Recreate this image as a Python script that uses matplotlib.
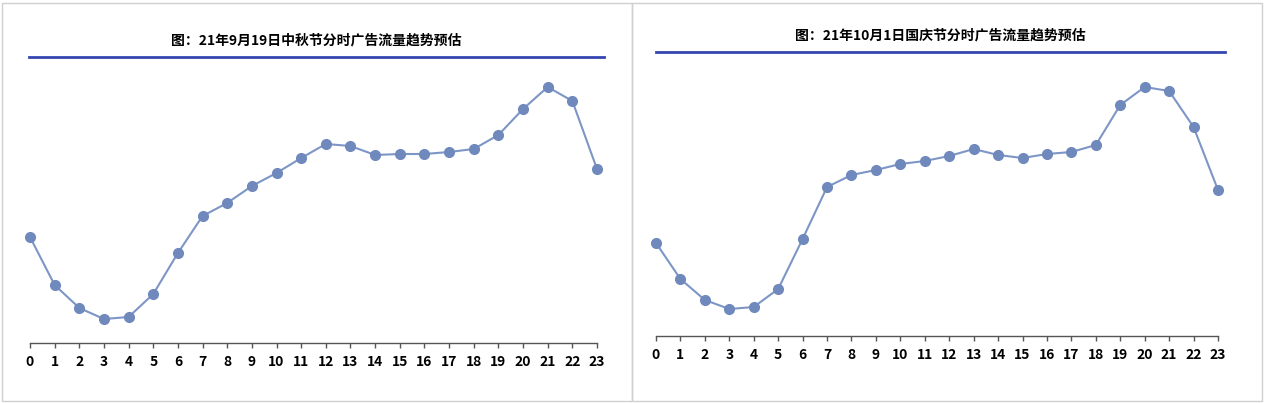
import matplotlib
matplotlib.use('Agg')
import matplotlib.pyplot as plt
from matplotlib.patches import Rectangle
from matplotlib.lines import Line2D

plt.rcParams['font.family'] = ['Noto Sans CJK SC', 'DejaVu Sans']

# Stunden 0-23
stunden = list(range(24))

# Mittherbstfest (21.09.19), relative Werte
werte_mittherbst = [106, 58, 35, 24, 26, 49, 90, 127, 140, 157, 170, 185,
                    199, 197, 188, 189, 189, 191, 194, 208, 234, 256, 242, 174]
# Nationalfeiertag (21.10.01)
werte_national = [93, 57, 36, 27, 29, 47, 97, 149, 161, 166, 172, 175,
                  180, 187, 181, 178, 182, 184, 191, 231, 249, 245, 209, 146]

titel_links = '图：21年9月19日中秋节分时广告流量趋势预估'
titel_rechts = '图：21年10月1日国庆节分时广告流量趋势预估'

W, H = 1265, 403
fig = plt.figure(figsize=(W / 100, H / 100), dpi=100)

linie_farbe = '#7d96c6'
punkt_farbe = '#7089bd'
blau = '#3346b0'


def px_box(x0, x1, y_top, y_bot):
    # Pixelkoordinaten -> Figurkoordinaten
    return [x0 / W, 1 - y_bot / H, (x1 - x0) / W, (y_bot - y_top) / H]


def panel(werte, titel, rahmen, achse, titel_y, linie_y, linie_x):
    rx0, rx1 = rahmen
    fig.patches.append(Rectangle((rx0 / W, 2 / H), (rx1 - rx0) / W, 398 / H,
                                 transform=fig.transFigure, fill=False,
                                 edgecolor='#d0d0d0', linewidth=1))
    x0, x1, y_bot = achse
    ax = fig.add_axes(px_box(x0, x1, 60, y_bot))
    ax.plot(stunden, werte, color=linie_farbe, linewidth=1.5,
            marker='o', markersize=7, markerfacecolor=punkt_farbe,
            markeredgecolor=punkt_farbe, clip_on=False, zorder=3)
    ax.set_xlim(0, 23)
    ax.set_ylim(0, y_bot - 60)
    for s in ['top', 'right', 'left']:
        ax.spines[s].set_visible(False)
    ax.spines['bottom'].set_color('#555555')
    ax.spines['bottom'].set_linewidth(1)
    ax.set_yticks([])
    ax.set_xticks(stunden)
    ax.set_xticklabels([str(s) for s in stunden], fontsize=10, fontweight='bold')
    ax.tick_params(axis='x', direction='out', length=3.5, width=1,
                   color='#555555', pad=5)
    fig.text((linie_x[0] + linie_x[1]) / 2 / W, 1 - titel_y / H, titel,
             ha='center', va='center', fontsize=10, fontweight='bold')
    fig.lines.append(Line2D([linie_x[0] / W, linie_x[1] / W],
                            [1 - linie_y / H, 1 - linie_y / H],
                            transform=fig.transFigure, color=blau, linewidth=2))


panel(werte_mittherbst, titel_links, (2, 632), (30, 597, 343), 40, 57, (29, 604))
panel(werte_national, titel_rechts, (632, 1262), (656, 1218, 336), 35, 52, (656, 1225))

plt.savefig('out.png', dpi=100)
